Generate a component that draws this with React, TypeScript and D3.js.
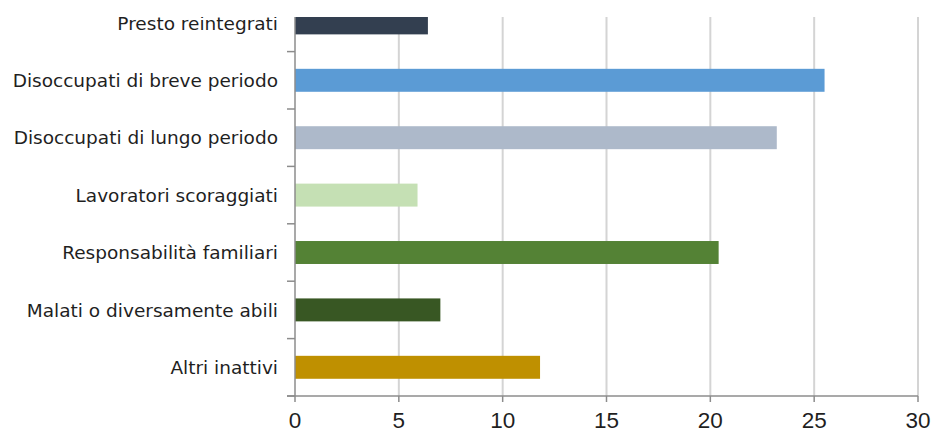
import React from "react";
import * as d3 from "d3";

const categories = [
  "Presto reintegrati",
  "Disoccupati di breve periodo",
  "Disoccupati di lungo periodo",
  "Lavoratori scoraggiati",
  "Responsabilità familiari",
  "Malati o diversamente abili",
  "Altri inattivi",
];
const values = [6.4, 25.5, 23.2, 5.9, 20.4, 7.0, 11.8];
const colors = ["#333f50", "#5b9bd5", "#adb9ca", "#c5e0b4", "#548235", "#385723", "#bf9000"];
const xTicks = [0, 5, 10, 15, 20, 25, 30];

const W = 931;
const H = 432;
const x0 = 295;
const x1 = 918;
const axisY = 396;
const step = 57.4;
const topY = axisY - step * categories.length;
const clipTop = 17;

export default function App() {
  const x = d3.scaleLinear().domain([0, 30]).range([x0, x1]);
  const y = d3
    .scaleBand<string>()
    .domain(categories)
    .range([topY, axisY])
    .paddingInner(0.6)
    .paddingOuter(0.3);
  const bw = y.bandwidth();
  const labelFont = "DejaVu Sans, Verdana, sans-serif";
  return (
    <svg width={W} height={H} style={{ position: "absolute", left: 0, top: 0, background: "#fff" }}>
      <defs>
        <clipPath id="clipTop">
          <rect x={0} y={clipTop} width={W} height={H - clipTop} />
        </clipPath>
      </defs>
      <rect x={0} y={0} width={W} height={H} fill="#fff" />
      <g clipPath="url(#clipTop)">
        {xTicks.filter((t) => t > 0).map((t) => (
          <line key={t} x1={x(t)} x2={x(t)} y1={topY} y2={axisY} stroke="#d4d4d4" strokeWidth={2} />
        ))}
        {categories.map((c, i) => (
          <rect key={c} x={x(0)} y={y(c)!} width={x(values[i]) - x(0)} height={bw} fill={colors[i]} />
        ))}
        <line x1={x0} x2={x0} y1={topY} y2={axisY} stroke="#8c8c8c" strokeWidth={1.5} />
        {d3.range(categories.length + 1).map((i) => (
          <line key={i} x1={x0 - 8} x2={x0} y1={topY + i * step} y2={topY + i * step} stroke="#8c8c8c" strokeWidth={1.5} />
        ))}
        {categories.map((c) => (
          <text
            key={c}
            x={278}
            y={y(c)! + bw / 2}
            dy="0.36em"
            textAnchor="end"
            fontFamily={labelFont}
            fontSize={18.5}
            fill="#1f1f1f"
          >
            {c}
          </text>
        ))}
      </g>
      <line x1={x0 - 8} x2={x1} y1={axisY} y2={axisY} stroke="#8c8c8c" strokeWidth={1.5} />
      {xTicks.map((t) => (
        <g key={t}>
          <line x1={x(t)} x2={x(t)} y1={axisY} y2={axisY + 6} stroke="#8c8c8c" strokeWidth={1.5} />
          <text
            x={x(t)}
            y={428}
            textAnchor="middle"
            fontFamily="Liberation Sans, Arial, sans-serif"
            fontSize={22.5}
            fill="#1f1f1f"
          >
            {t}
          </text>
        </g>
      ))}
    </svg>
  );
}
